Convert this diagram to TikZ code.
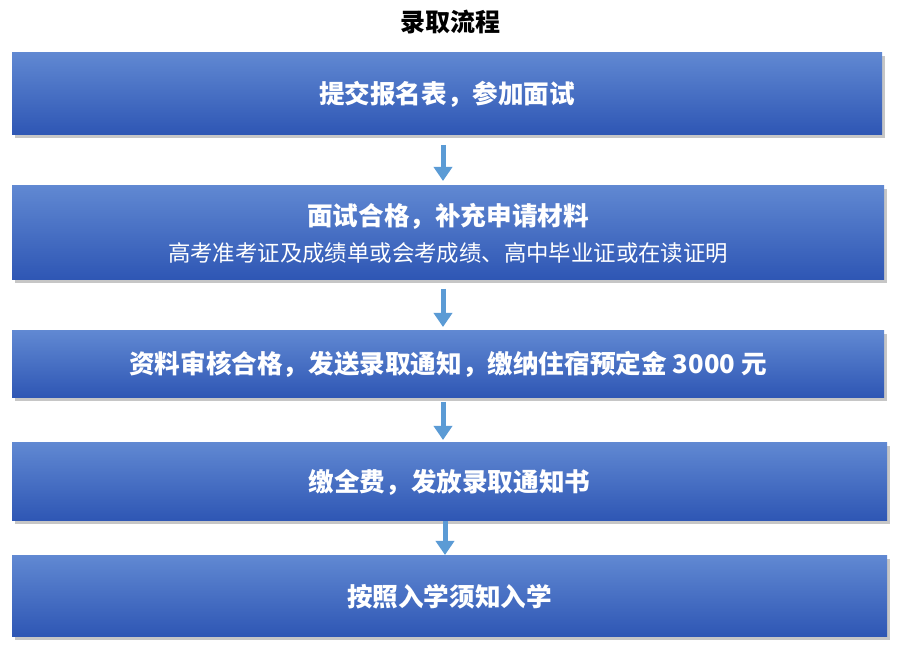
\documentclass[tikz,border=0pt]{standalone}
\usepackage{fontspec}
\setmainfont{Noto Sans CJK SC}
\usetikzlibrary{positioning, shadows, arrows.meta}
\definecolor{boxtop}{HTML}{6088D2}
\definecolor{boxbot}{HTML}{2E56B4}
\definecolor{arrowblue}{HTML}{5B9BD5}
\tikzset{
    stage/.style={rectangle, top color=boxtop, bottom color=boxbot,
        text=white, font=\bfseries\fontsize{12.8}{17}\selectfont, align=center,
        drop shadow={shadow xshift=1.5pt, shadow yshift=-1.5pt, opacity=0.45},
        inner sep=0pt},
    flow/.style={-{Triangle[width=9pt,length=7pt]}, line width=2.5pt, arrowblue}
}
\begin{document}
\begin{tikzpicture}[x=0.5pt, y=-0.5pt]
    \useasboundingbox (0,0) rectangle (900,651);
    \node[font=\bfseries\fontsize{12.5}{14}\selectfont] (title) at (450,22) {录取流程};

    \node[stage, minimum width=435pt, minimum height=41pt] (s1) at (447,94) {提交报名表，参加面试};
    \node[stage, minimum width=436pt, minimum height=47pt] (s2) at (448,233)
        {面试合格，补充申请材料\\[1pt]{\mdseries\fontsize{11.2}{14}\selectfont 高考准考证及成绩单或会考成绩、高中毕业证或在读证明}};
    \node[stage, minimum width=436pt, minimum height=33.5pt] (s3) at (448,364.5) {资料审核合格，发送录取通知，缴纳住宿预定金 3000 元};
    \node[stage, minimum width=437.5pt, minimum height=39pt] (s4) at (449.5,482) {缴全费，发放录取通知书};
    \node[stage, minimum width=437.5pt, minimum height=40.5pt] (s5) at (449.5,596.5) {按照入学须知入学};

    \coordinate (a1) at (443,145); \coordinate (b1) at (443,181);
    \coordinate (a2) at (443,289); \coordinate (b2) at (443,327);
    \coordinate (a3) at (443,402); \coordinate (b3) at (443,440);
    \coordinate (a4) at (445,521); \coordinate (b4) at (445,555);
    \foreach \i in {1,...,4} \draw[flow] (a\i) -- (b\i);
\end{tikzpicture}
\end{document}
